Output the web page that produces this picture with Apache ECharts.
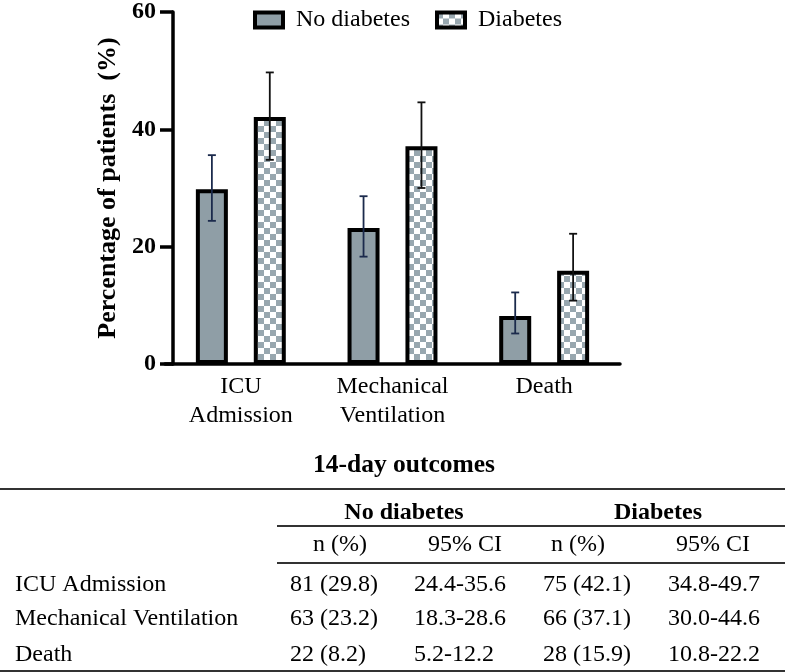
<!DOCTYPE html>
<html><head><meta charset="utf-8">
<script src="https://cdn.jsdelivr.net/npm/echarts@6/dist/echarts.min.js"></script>
<style>html,body{margin:0;padding:0;background:#fff}#c{width:785px;height:672px}</style>
</head><body><div id="c"></div>
<script>
// ---- data ----
const categories = ['ICU\nAdmission', 'Mechanical\nVentilation', 'Death'];
const rowLabels = ['ICU Admission', 'Mechanical Ventilation', 'Death'];
const seriesNames = ['No diabetes', 'Diabetes'];
const countNo = [81, 63, 22];
const pctNo = [29.8, 23.2, 8.2];
const ciLowNo = [24.4, 18.3, 5.2];
const ciHighNo = [35.6, 28.6, 12.2];
const countDia = [75, 66, 28];
const pctDia = [42.1, 37.1, 15.9];
const ciLowDia = [34.8, 30.0, 10.8];
const ciHighDia = [49.7, 44.6, 22.2];
const yTicks = [0, 20, 40, 60];
const tableTitle = '14-day outcomes';
const subHeaders = ['n (%)', '95% CI', 'n (%)', '95% CI'];

// ---- style ----
const FONT = '"Liberation Serif", "Times New Roman", serif';
const SOLID = '#8f9ea6';
const CHECK = '#98a7af';
const BAR_W = 32, GAP_PCT = 81;
const GAP_PX = BAR_W * GAP_PCT / 100;

function checker() {
  const c = document.createElement('canvas');
  c.width = 12; c.height = 12;
  const g = c.getContext('2d');
  g.fillStyle = '#ffffff'; g.fillRect(0, 0, 12, 12);
  g.fillStyle = CHECK; g.fillRect(0, 0, 6, 6); g.fillRect(6, 6, 6, 6);
  return c;
}
const checkFill = { image: checker(), repeat: 'repeat' };

function errRenderer(sign, color) {
  return function (params, api) {
    const i = api.value(0);
    const lo = api.coord([i, api.value(1)]);
    const hi = api.coord([i, api.value(2)]);
    const x = lo[0] + sign * (BAR_W + GAP_PX) / 2;
    const cap = 4;
    const st = { stroke: color, lineWidth: 1.8 };
    return { type: 'group', children: [
      { type: 'line', shape: { x1: x, y1: lo[1], x2: x, y2: hi[1] }, style: st },
      { type: 'line', shape: { x1: x - cap, y1: lo[1], x2: x + cap, y2: lo[1] }, style: st },
      { type: 'line', shape: { x1: x - cap, y1: hi[1], x2: x + cap, y2: hi[1] }, style: st }
    ]};
  };
}

// ---- table graphics ----
const g = [];
function txt(s, x, y, opts) {
  opts = opts || {};
  const al = opts.align || 'left';
  g.push({ type: 'text', x: x, y: y, style: {
    text: s, font: (opts.bold ? 'bold ' : '') + (opts.size || 24) + 'px ' + FONT,
    fill: '#000', textAlign: al, align: al, textVerticalAlign: 'middle', verticalAlign: 'middle'
  }});
}
function rule(x1, y, x2) {
  g.push({ type: 'line', shape: { x1: x1, y1: y, x2: x2, y2: y }, style: { stroke: '#333', lineWidth: 2 } });
}
txt(tableTitle, 404, 465, { bold: true, align: 'center', size: 25.5 });
rule(0, 489, 785);
txt(seriesNames[0], 404, 513, { bold: true, align: 'center' });
txt(seriesNames[1], 658, 513, { bold: true, align: 'center' });
rule(277, 526, 785);
[340, 465, 578, 713].forEach((x, k) => txt(subHeaders[k], x, 545, { align: 'center' }));
rule(277, 563, 785);
const rowY = [585, 619, 655];
rowLabels.forEach((lab, r) => {
  const y = rowY[r];
  txt(lab, 15, y);
  txt(countNo[r] + ' (' + pctNo[r].toFixed(1) + ')', 290, y);
  txt(ciLowNo[r].toFixed(1) + '-' + ciHighNo[r].toFixed(1), 414, y);
  txt(countDia[r] + ' (' + pctDia[r].toFixed(1) + ')', 543, y);
  txt(ciLowDia[r].toFixed(1) + '-' + ciHighDia[r].toFixed(1), 668, y);
});
rule(0, 671, 785);

const chart = echarts.init(document.getElementById('c'), null, { renderer: 'canvas' });
const legendCommon = {
  top: 3, itemWidth: 28, itemHeight: 15, icon: 'rect',
  textStyle: { fontFamily: FONT, fontSize: 24, color: '#000', padding: [0, 0, 0, 8] }
};
chart.setOption({
  animation: false,
  backgroundColor: '#fff',
  grid: { left: 165, top: 9, width: 455, height: 355 },
  legend: [
    Object.assign({ left: 248, data: [{ name: seriesNames[0], itemStyle: { color: SOLID, borderColor: '#000', borderWidth: 4 } }] }, legendCommon),
    Object.assign({ left: 430, data: [{ name: seriesNames[1], itemStyle: { color: checkFill, borderColor: '#000', borderWidth: 4 } }] }, legendCommon)
  ],
  xAxis: {
    type: 'category', data: categories,
    axisLine: { lineStyle: { color: '#000', width: 3.5 } },
    axisTick: { show: false },
    axisLabel: { fontFamily: FONT, fontSize: 24, color: '#000', lineHeight: 29, margin: 8, interval: 0 }
  },
  yAxis: {
    type: 'value', min: 0, max: 60, interval: 20, offset: -8,
    name: 'Percentage of patients  (%)', nameLocation: 'middle', nameGap: 46,
    nameTextStyle: { fontFamily: FONT, fontSize: 26, fontWeight: 'bold', color: '#000' },
    axisLine: { show: true, lineStyle: { color: '#000', width: 3.5 } },
    axisTick: { show: true, length: 13, lineStyle: { color: '#000', width: 3.5 } },
    axisLabel: { fontFamily: FONT, fontSize: 24, fontWeight: 'bold', color: '#000', margin: 17,
      formatter: v => yTicks.indexOf(v) >= 0 ? String(v) : '' },
    splitLine: { show: false }
  },
  series: [
    { name: seriesNames[0], type: 'bar', data: pctNo, barWidth: BAR_W, barGap: GAP_PCT + '%',
      itemStyle: { color: SOLID, borderColor: '#000', borderWidth: 4 } },
    { name: seriesNames[1], type: 'bar', data: pctDia, barWidth: BAR_W, barGap: GAP_PCT + '%',
      itemStyle: { color: checkFill, borderColor: '#000', borderWidth: 4 } },
    { type: 'custom', name: 'errNo', z: 5, renderItem: errRenderer(-1, '#1b2a4c'),
      data: categories.map((c, i) => [i, ciLowNo[i], ciHighNo[i]]), encode: { x: 0, y: [1, 2] } },
    { type: 'custom', name: 'errDia', z: 5, renderItem: errRenderer(1, '#111'),
      data: categories.map((c, i) => [i, ciLowDia[i], ciHighDia[i]]), encode: { x: 0, y: [1, 2] } }
  ],
  graphic: { elements: g }
});
</script></body></html>
